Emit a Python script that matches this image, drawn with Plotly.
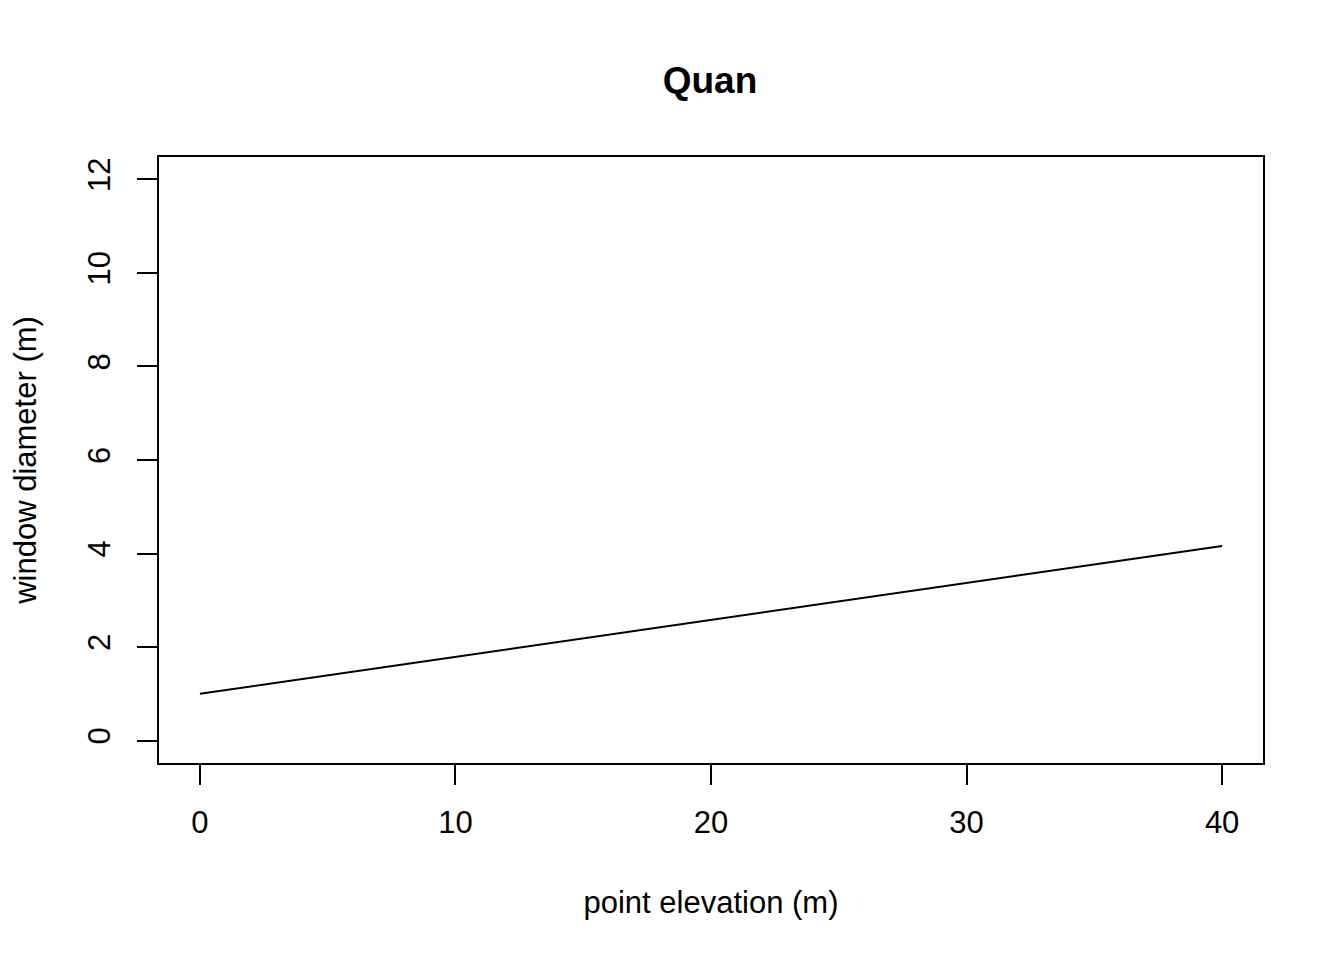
import plotly.graph_objects as go

# point elevation (m) and Quan window diameter (m)
elevation = [0, 10, 20, 30, 40]
window_diameter = [1.0, 1.79, 2.58, 3.37, 4.16]

x_ticks = [0, 10, 20, 30, 40]
y_ticks = [0, 2, 4, 6, 8, 10, 12]

font_family = "Liberation Sans, Arial, Helvetica, sans-serif"

fig = go.Figure(
    go.Scatter(
        x=elevation,
        y=window_diameter,
        mode="lines",
        line=dict(color="black", width=2),
        showlegend=False,
    )
)

# the page body adds 8px, so margins are 8px smaller at left/top
fig.update_layout(
    width=1344,
    height=960,
    margin=dict(l=149, r=89, t=149, b=205),
    plot_bgcolor="white",
    paper_bgcolor="white",
    font=dict(family=font_family, size=31, color="black"),
    title=dict(
        text="<b>Quan</b>",
        x=702 / 1344,
        xanchor="center",
        y=1 - 72 / 960,
        yanchor="middle",
        font=dict(size=37),
    ),
)

fig.update_xaxes(
    range=[-1.6, 41.6],
    tickvals=x_ticks,
    ticks="outside",
    ticklen=20,
    tickwidth=1.5,
    tickcolor="black",
    showline=True,
    linecolor="black",
    linewidth=1.5,
    mirror=True,
    showgrid=False,
    zeroline=False,
    ticklabelstandoff=11,
    title=dict(text="point elevation (m)", standoff=52, font=dict(size=31)),
)

fig.update_yaxes(
    range=[-0.48, 12.48],
    tickvals=y_ticks,
    ticks="outside",
    ticklen=20,
    tickwidth=1.5,
    tickcolor="black",
    tickangle=-90,
    showline=True,
    linecolor="black",
    linewidth=1.5,
    mirror=True,
    showgrid=False,
    zeroline=False,
    ticklabelstandoff=15,
    title=dict(text="window diameter (m)", standoff=40, font=dict(size=31)),
)

fig.write_html("out.html")
